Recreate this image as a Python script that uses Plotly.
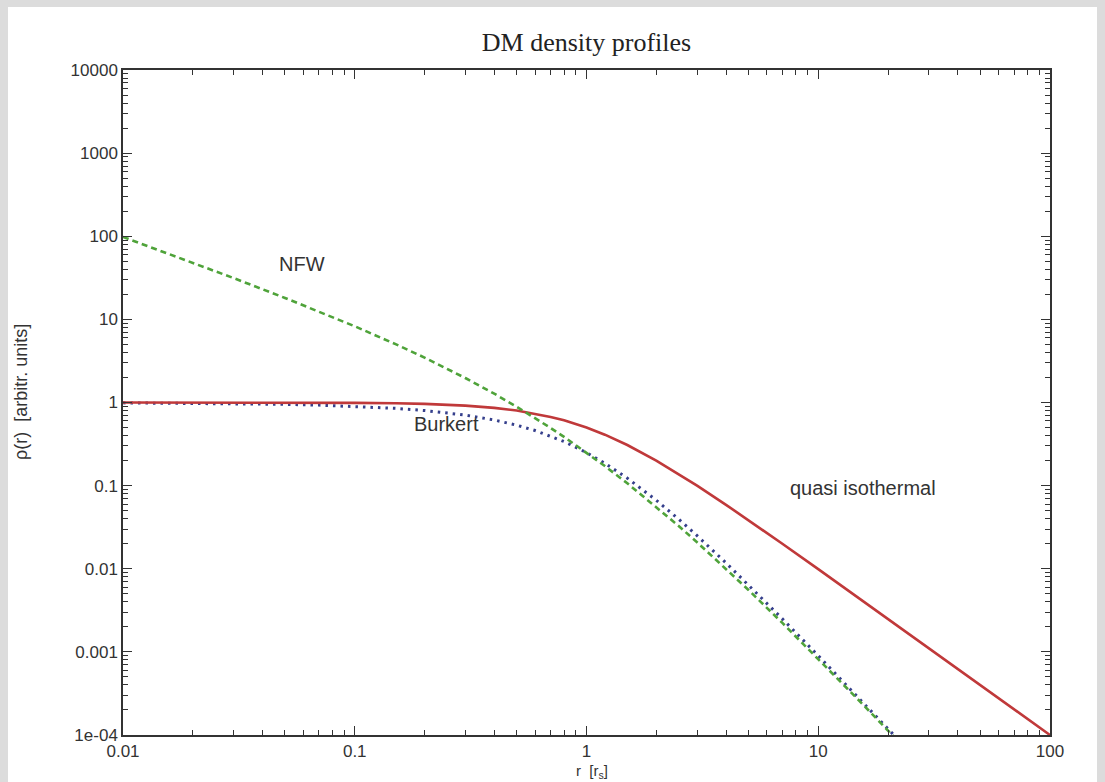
import math
import plotly.graph_objects as go

# Radius in units of the scale radius r_s
r = [0.01, 0.02, 0.03, 0.05, 0.07, 0.1, 0.15, 0.2, 0.3, 0.4, 0.5, 0.6, 0.7, 0.8,
     1.0, 1.2, 1.5, 2.0, 2.5, 3.0, 4.0, 5.0, 7.0, 10.0, 15.0, 20.0, 22.0]
r_iso = [0.01, 0.02, 0.03, 0.05, 0.07, 0.1, 0.15, 0.2, 0.3, 0.4, 0.5, 0.6, 0.7, 0.8,
         1.0, 1.2, 1.5, 2.0, 2.5, 3.0, 4.0, 5.0, 7.0, 10.0, 15.0, 20.0, 30.0, 50.0, 70.0, 100.0]

# Density profiles (arbitrary units)
rho_nfw = [98.0, 48.1, 31.4, 18.1, 12.5, 8.26, 5.04, 3.47, 1.97, 1.276, 0.889, 0.651, 0.494, 0.386,
           0.25, 0.172, 0.1067, 0.0556, 0.0327, 0.0208, 0.0100, 0.00556, 0.00223, 0.000826,
           0.000260, 0.000113, 0.0000859]
rho_burkert = [0.990, 0.980, 0.970, 0.950, 0.930, 0.900, 0.850, 0.801, 0.706, 0.616, 0.533, 0.460,
               0.395, 0.339, 0.25, 0.186, 0.123, 0.0667, 0.0394, 0.025, 0.01176, 0.00641, 0.0025,
               0.00090, 0.000277, 0.000119, 0.0000896]
rho_iso = [0.9999, 0.9996, 0.9991, 0.9975, 0.9951, 0.990, 0.978, 0.962, 0.917, 0.862, 0.800, 0.735,
           0.671, 0.610, 0.5, 0.410, 0.308, 0.2, 0.138, 0.1, 0.0588, 0.0385, 0.02, 0.0099,
           0.00442, 0.00249, 0.00111, 0.0004, 0.000204, 0.0001]

x_ticks = [0.01, 0.1, 1, 10, 100]
x_tick_text = ["0.01", "0.1", "1", "10", "100"]
y_ticks = [1e-4, 1e-3, 1e-2, 1e-1, 1, 10, 100, 1000, 10000]
y_tick_text = ["1e-04", "0.001", "0.01", "0.1", "1", "10", "100", "1000", "10000"]

labels = ["NFW", "Burkert", "quasi isothermal"]
label_x = [0.059, 0.25, 15.6]
label_y = [46, 0.55, 0.093]

x_minor = [m * 10 ** e for e in range(-2, 2) for m in range(2, 10)]
y_minor = [m * 10 ** e for e in range(-4, 4) for m in range(2, 10)]

W, H = 1105, 782
ML, MR, MT, MB = 123, 55, 70, 47
PW, PH = W - ML - MR, H - MT - MB

INK = "#333333"
SANS = "Liberation Sans, Arial, sans-serif"

fig = go.Figure()
fig.add_trace(go.Scatter(x=r, y=rho_burkert, mode="lines", name="Burkert",
                         line=dict(color="#353f8c", width=3, dash="2.5px,5px")))
fig.add_trace(go.Scatter(x=r_iso, y=rho_iso, mode="lines", name="quasi isothermal",
                         line=dict(color="#c0393a", width=2.6)))
fig.add_trace(go.Scatter(x=r, y=rho_nfw, mode="lines", name="NFW",
                         line=dict(color="#4fa33a", width=2.6, dash="6px,4px")))

for txt, lx, ly in zip(labels, label_x, label_y):
    fig.add_annotation(x=math.log10(lx), y=math.log10(ly), text=txt, showarrow=False,
                       font=dict(family=SANS, size=20, color=INK))

# Axis titles
fig.add_annotation(xref="paper", yref="paper", x=(592 - ML) / PW, y=-(782 - MT - PH) / PH,
                   text="r&nbsp;&nbsp;[r<sub>s</sub>]", showarrow=False, xanchor="center",
                   yanchor="bottom", borderpad=0,
                   font=dict(family=SANS, size=15, color=INK))
fig.add_annotation(xref="paper", yref="paper", x=(21 - ML) / PW, y=1 - (392 - MT) / PH,
                   text="ρ(r)&nbsp;&nbsp;[arbitr. units]", showarrow=False, textangle=-90,
                   xanchor="center", yanchor="middle",
                   font=dict(family=SANS, size=18, color=INK))

axis_common = dict(
    type="log", showgrid=False, zeroline=False, showline=True, linecolor=INK,
    linewidth=1.5, mirror="ticks", ticks="inside", ticklen=9, tickwidth=1.2,
    tickcolor=INK, automargin=False,
    tickfont=dict(family=SANS, size=17, color=INK),
)

fig.update_xaxes(
    **axis_common, range=[-2, 2], tickmode="array", tickvals=x_ticks, ticktext=x_tick_text,
    ticklabelstandoff=0,
    minor=dict(tickmode="array", tickvals=x_minor, ticks="inside", ticklen=5, tickwidth=1,
               tickcolor=INK),
)
fig.update_yaxes(
    **axis_common, range=[-4, 4], tickmode="array", tickvals=y_ticks, ticktext=y_tick_text,
    minor=dict(tickmode="array", tickvals=y_minor, ticks="inside", ticklen=5, tickwidth=1,
               tickcolor=INK),
)

# White page on a light grey frame
fig.add_shape(type="rect", xref="paper", yref="paper", layer="below",
              x0=(8 - ML) / PW, x1=(1097 - ML) / PW, y0=-(H - MT - PH + 5) / PH,
              y1=1 + (MT - 7) / PH, fillcolor="white", line=dict(width=0))

fig.update_layout(
    width=W, height=H, margin=dict(l=ML, r=MR, t=MT, b=MB, autoexpand=False),
    paper_bgcolor="#dcdcdc", plot_bgcolor="white", showlegend=False,
    title=dict(text="DM density profiles", x=(ML + PW / 2) / W, xanchor="center",
               y=1 - 42 / H, yanchor="middle",
               font=dict(family="Liberation Serif, Times New Roman, serif", size=26,
                         color="#222222")),
)

fig.write_html("out.html")
